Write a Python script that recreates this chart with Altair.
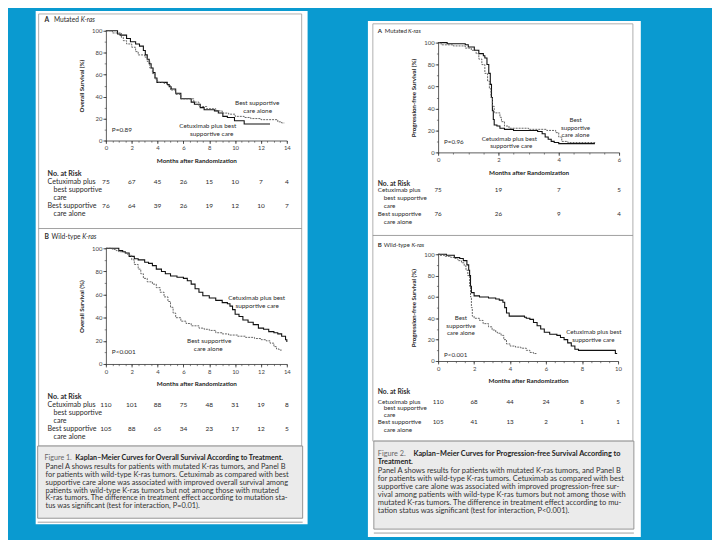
import altair as alt
import pandas as pd

W, H = 712, 532
BLUE = "#0a9ad0"
FONT = "Lato"
INK = "#2b2b2b"

# ---------------- Kaplan-Meier curves (month, % surviving) ----------------
# Figure 1A  overall survival, mutated K-ras
os_mut_cet_m = [0, 0.9, 1.1, 1.6, 1.9, 2.3, 2.6, 2.9, 3.05, 3.2, 3.35, 3.5, 3.65, 3.8, 3.95, 4.75, 4.9, 5.05, 5.4, 5.8,
                6.6, 6.85, 7.3, 7.6, 8.4, 8.7, 9.05, 9.4, 9.95, 10.7, 12.7]
os_mut_cet_p = [100, 97, 96, 93, 90, 88, 86, 82, 78, 74, 70, 66, 62, 57, 53, 51, 49, 47, 43, 38,
                35, 33, 30, 28, 27, 25, 22, 21, 18, 15, 15]
os_mut_bsc_m = [0, 0.5, 1.2, 1.35, 1.6, 2.0, 2.3, 2.5, 3.0, 3.2, 3.4, 3.6, 3.8, 4.0, 4.5, 4.8, 5.0, 5.4, 5.8, 6.8,
                7.2, 7.8, 8.5, 9.0, 9.5, 10.0, 10.7, 11.2, 12.0, 13.3, 13.6, 13.8]
os_mut_bsc_p = [100, 98, 94, 91, 88, 85, 81, 78, 76, 72, 66, 61, 56, 53, 52, 50, 46, 42, 38, 35,
                31, 29, 27, 25, 24, 22, 21, 20, 19, 17, 16, 16]
# Figure 1B  overall survival, wild-type K-ras
os_wt_cet_m = [0, 1.0, 1.3, 1.5, 1.8, 2.2, 2.5, 3.0, 3.3, 3.6, 3.9, 4.3, 4.6, 5.0, 5.5, 6.0, 6.3, 6.6, 6.9, 7.2,
               7.5, 8.0, 8.5, 9.0, 9.4, 9.6, 9.8, 10.0, 10.3, 10.6, 11.0, 11.4, 11.8, 12.2, 12.6, 13.0, 13.3, 13.6, 13.9, 14.0]
os_wt_cet_p = [100, 98, 97, 96, 93, 91, 90, 88, 87, 85, 82, 80, 78, 76, 75, 74, 72, 69, 65, 62,
               59, 57, 55, 53, 52, 50, 47, 43, 41, 38, 36, 34, 31, 30, 28, 27, 26, 24, 21, 19]
os_wt_bsc_m = [0, 0.5, 0.8, 1.0, 1.5, 1.7, 2.0, 2.2, 2.5, 2.7, 2.9, 3.2, 3.6, 3.9, 4.2, 4.5, 4.8, 5.0, 5.2, 5.4,
               5.8, 6.2, 6.6, 7.2, 7.6, 8.0, 8.5, 9.0, 9.5, 10.2, 10.8, 11.5, 12.0, 12.4, 12.7, 13.0, 13.2, 13.4, 13.6]
os_wt_bsc_p = [100, 99, 98, 97, 96, 94, 90, 86, 82, 78, 74, 71, 69, 66, 62, 58, 54, 49, 44, 40,
               37, 35, 33, 31, 30, 29, 27, 26, 25, 24, 23, 22, 21, 20, 18, 15, 13, 12, 12]
# Figure 2A  progression-free survival, mutated K-ras
pfs_mut_cet_m = [0, 0.3, 0.9, 1.0, 1.2, 1.35, 1.5, 1.55, 1.62, 1.68, 1.73, 1.77, 1.8, 1.83, 1.86, 1.95, 2.05, 2.2,
                 2.5, 3.3, 3.45, 3.55, 3.65, 3.75, 3.85, 4.0, 5.2]
pfs_mut_cet_p = [100, 99, 98, 96, 93, 90, 88, 86, 80, 72, 62, 50, 38, 30, 25, 24, 22, 21,
                 20, 19, 17, 14, 12, 10, 9, 8, 8]
pfs_mut_bsc_m = [0, 0.1, 0.5, 0.9, 1.1, 1.26, 1.35, 1.45, 1.55, 1.64, 1.7, 1.75, 1.8, 1.86, 2.05, 2.1, 2.2, 2.35,
                 3.0, 3.6, 3.9, 4.0, 4.1, 4.3, 5.2]
pfs_mut_bsc_p = [100, 98, 97, 95, 93, 90, 85, 80, 72, 65, 58, 50, 42, 36, 32, 28, 24, 22,
                 21, 20, 18, 14, 10, 9, 8]
# Figure 2B  progression-free survival, wild-type K-ras
pfs_wt_cet_m = [0, 0.46, 0.9, 1.2, 1.4, 1.6, 1.7, 1.75, 1.8, 1.85, 2.0, 2.3, 2.8, 3.2, 3.4, 3.6, 3.7, 3.8, 3.95, 4.8,
                4.9, 5.1, 5.3, 5.5, 5.7, 5.9, 6.2, 6.6, 6.8, 7.0, 7.2, 7.4, 7.6, 7.8, 9.85, 9.95]
pfs_wt_cet_p = [100, 99, 97, 96, 94, 90, 85, 80, 70, 64, 61, 60, 59, 58, 57, 55, 50, 45, 42, 41,
                40, 39, 36, 33, 30, 27, 25, 24, 22, 20, 17, 14, 11, 10, 7, 7]
pfs_wt_bsc_m = [0, 0.1, 0.4, 0.7, 0.9, 1.1, 1.3, 1.45, 1.55, 1.65, 1.75, 1.8, 1.85, 1.9, 2.0, 2.3, 2.5, 2.8, 3.0, 3.2,
                3.3, 3.5, 3.65, 3.8, 4.0, 4.3, 4.6, 4.9, 5.1, 5.3, 5.45]
pfs_wt_bsc_p = [100, 99, 98, 97, 96, 94, 92, 89, 85, 80, 70, 60, 50, 42, 40, 38, 35, 32, 29, 27,
                26, 24, 20, 16, 14, 13, 12, 10, 8, 7, 6]

# ---------------- numbers at risk ----------------
os_risk_months = [0, 2, 4, 6, 8, 10, 12, 14]
os_mut_risk_cet = [75, 67, 45, 26, 15, 10, 7, 4]
os_mut_risk_bsc = [76, 64, 39, 26, 19, 12, 10, 7]
os_wt_risk_cet = [110, 101, 88, 75, 48, 31, 19, 8]
os_wt_risk_bsc = [105, 88, 65, 34, 23, 17, 12, 5]
pfs_mut_risk_months = [0, 2, 4, 6]
pfs_mut_risk_cet = [75, 19, 7, 5]
pfs_mut_risk_bsc = [76, 26, 9, 4]
pfs_wt_risk_months = [0, 2, 4, 6, 8, 10]
pfs_wt_risk_cet = [110, 68, 44, 24, 8, 5]
pfs_wt_risk_bsc = [105, 41, 13, 2, 1, 1]

# ---------------- texts ----------------
x_title = "Months after Randomization"
os_ytitle = "Overall Survival (%)"
pfs_ytitle = "Progression-free Survival (%)"
cap1_head = "Figure 1."
cap1_bold = "Kaplan–Meier Curves for Overall Survival According to Treatment."
cap1_lines = [
    "Panel A shows results for patients with mutated K-ras tumors, and Panel B",
    "for patients with wild-type K-ras tumors. Cetuximab as compared with best",
    "supportive care alone was associated with improved overall survival among",
    "patients with wild-type K-ras tumors but not among those with mutated",
    "K-ras tumors. The difference in treatment effect according to mutation sta-",
    "tus was significant (test for interaction, P=0.01).",
]
cap2_head = "Figure 2."
cap2_bold = ["Kaplan–Meier Curves for Progression-free Survival According to", "Treatment."]
cap2_lines = [
    "Panel A shows results for patients with mutated K-ras tumors, and Panel B",
    "for patients with wild-type K-ras tumors. Cetuximab as compared with best",
    "supportive care alone was associated with improved progression-free sur-",
    "vival among patients with wild-type K-ras tumors but not among those with",
    "mutated K-ras tumors. The difference in treatment effect according to mu-",
    "tation status was significant (test for interaction, P<0.001).",
]


def km_panel(cet_m, cet_p, bsc_m, bsc_p, xmax, xstep, x0, x1, y0, y100, ytitle,
             risk_m, risk_c, risk_b, ry1, ry2, rsize):
    xs = alt.Scale(domain=[0, xmax], range=[x0, x1], nice=False, zero=False)
    ys = alt.Scale(domain=[0, 100], range=[y0, y100], nice=False, zero=False)
    common = dict(zindex=1, grid=False, tickColor="#333", tickWidth=0.8)
    ax_x = alt.Axis(orient="bottom", offset=y0 - H, values=list(range(0, xmax + 1, xstep)), format="d",
                    labelFont=FONT, labelFontSize=6, labelColor="#444", labelPadding=1.5, tickSize=3,
                    labelFlush=False, labelOverlap=False, domainColor="#333", domainWidth=0.8,
                    title=x_title, titleFont=FONT, titleFontSize=6.4, titleFontWeight="bold",
                    titleColor="#222", titleX=(x0 + x1) / 2, titleY=20, titleAlign="center",
                    titleBaseline="middle", titleAngle=0, **common)
    ax_y = alt.Axis(orient="left", offset=-x0, values=[0, 20, 40, 60, 80, 100], format="d",
                    labelFont=FONT, labelFontSize=6, labelColor="#444", labelPadding=1, tickSize=3,
                    labelFlush=False, labelOverlap=False, domainColor="#333", domainWidth=0.8,
                    title=ytitle, titleFont=FONT, titleFontSize=6.2, titleFontWeight="bold",
                    titleColor="#222", titleAngle=270, titleX=-24.5, titleY=(y0 + y100) / 2,
                    titleAlign="center", titleBaseline="middle", **common)
    mx = alt.Axis(orient="bottom", offset=y0 - H, values=[i * 0.5 for i in range(2 * xmax + 1)],
                  labels=False, domain=False, tickSize=1.7, title="", zindex=1, grid=False,
                  tickColor="#333", tickWidth=0.6)
    my = alt.Axis(orient="left", offset=-x0, values=list(range(0, 101, 10)),
                  labels=False, domain=False, tickSize=1.7, title="", zindex=1, grid=False,
                  tickColor="#333", tickWidth=0.6)
    solid = alt.Chart(pd.DataFrame({"month": cet_m, "pct": cet_p})).mark_line(
        interpolate="step-after", color="#111", strokeWidth=1.1).encode(
        x=alt.X("month:Q", scale=xs, axis=ax_x), y=alt.Y("pct:Q", scale=ys, axis=ax_y))
    dashed = alt.Chart(pd.DataFrame({"month": bsc_m, "pct": bsc_p})).mark_line(
        interpolate="step-after", color="#555", strokeWidth=0.9, strokeDash=[2, 1]).encode(
        x=alt.X("month:Q", scale=xs, axis=mx), y=alt.Y("pct:Q", scale=ys, axis=my))
    r1 = alt.Chart(pd.DataFrame({"month": risk_m, "n": risk_c})).mark_text(
        font=FONT, fontSize=rsize, color=INK).encode(
        x=alt.X("month:Q", scale=xs, axis=None), y=alt.value(ry1), text="n:N")
    r2 = alt.Chart(pd.DataFrame({"month": risk_m, "n": risk_b})).mark_text(
        font=FONT, fontSize=rsize, color=INK).encode(
        x=alt.X("month:Q", scale=xs, axis=None), y=alt.value(ry2), text="n:N")
    return alt.layer(solid, dashed, r1, r2).resolve_axis(x="independent", y="independent")


one = pd.DataFrame({"k": [0]})


def box(x, x2, y, y2, fill, stroke="", sw=0.0, fo=1.0):
    kw = dict(fill=fill, fillOpacity=fo)
    if stroke:
        kw.update(stroke=stroke, strokeWidth=sw)
    return alt.Chart(one).mark_rect(**kw).encode(
        x=alt.value(x), x2=alt.value(x2), y=alt.value(y), y2=alt.value(y2))


def hline(x, x2, y, color="#888", sw=0.8):
    return alt.Chart(one).mark_rule(color=color, strokeWidth=sw).encode(
        x=alt.value(x), x2=alt.value(x2), y=alt.value(y))


decor = [
    box(28, 303, 0, 519, "white"),
    box(364, 640, 10, 532, "white"),
    box(31, 297, 3, 440, "white", "#9a9a9a", 0.8, 0.0),
    box(369, 632, 13, 435, "white", "#9a9a9a", 0.8, 0.0),
    hline(31, 297, 220),
    hline(369, 632, 227),
    box(30, 298, 440, 513, "#ebebeb", "#8a8a8a", 0.9),
    box(370, 633, 435, 524, "#ebebeb", "#8a8a8a", 0.9),
    hline(30, 298, 517, "#888", 0.8),
    hline(370, 633, 528, "#888", 0.8),
]

# text rows: (text, x, y, size, color)
reg_left, bold_left, ital_left, centered = [], [], [], []

# panel titles
bold_left += [("A", 37, 9, 6.8, INK), ("B", 37, 229, 6.8, INK), ("A", 374, 20, 6.2, INK), ("B", 374, 237, 6.2, INK)]
reg_left += [("Mutated", 46.5, 9, 6.7, INK), ("Wild-type", 44, 229, 6.7, INK),
             ("Mutated", 381, 20, 6.0, INK), ("Wild-type", 380, 237, 6.0, INK)]
ital_left += [("K-ras", 73.5, 9, 6.7, INK), ("K-ras", 75, 229, 6.7, INK),
              ("K-ras", 404.5, 20, 6.0, INK), ("K-ras", 408, 237, 6.0, INK)]


def risk_labels(x, ys, size, bsize):
    bold_left.append(("No. at Risk", x, ys[0], bsize, INK))
    rows = [("Cetuximab plus", 0), ("best supportive", 6), ("care", 6), ("Best supportive", 0), ("care alone", 6)]
    for (t, ind), yy in zip(rows, ys[1:]):
        reg_left.append((t, x + ind, yy, size, INK))


risk_labels(40, [165, 173, 181, 189, 197, 205], 7.2, 7.2)
risk_labels(40, [390, 399, 407, 415, 423, 431], 7.2, 7.2)
risk_labels(374, [175, 181, 189, 197, 205, 213], 6.4, 6.8)
risk_labels(374, [385, 395, 402, 409, 416, 424], 6.4, 6.8)

# p values
reg_left += [("P=0.89", 105, 120, 6.5, INK), ("P<0.001", 105, 345, 6.5, INK),
             ("P=0.96", 441, 133, 6.3, INK), ("P<0.001", 441, 348, 6.3, INK)]

# curve annotations
centered += [
    ("Best supportive", 252, 93, 6.5, INK), ("care alone", 252.5, 101, 6.5, INK),
    ("Cetuximab plus best", 202, 116, 6.5, INK), ("supportive care", 206, 124, 6.5, INK),
    ("Cetuximab plus best", 251.5, 290, 6.5, INK), ("supportive care", 252, 298, 6.5, INK),
    ("Best supportive", 203.5, 334, 6.5, INK), ("care alone", 202.5, 342, 6.5, INK),
    ("Best", 574, 110, 6.3, INK), ("supportive", 574, 118, 6.3, INK), ("care alone", 574, 125, 6.3, INK),
    ("Cetuximab plus best", 507, 129, 6.3, INK), ("supportive care", 509, 137, 6.3, INK),
    ("Best", 458, 311, 6.3, INK), ("supportive", 458, 319, 6.3, INK), ("care alone", 458, 326, 6.3, INK),
    ("Cetuximab plus best", 592.5, 325, 6.3, INK), ("supportive care", 592, 333, 6.3, INK),
]

# captions
reg_left.append((cap1_head, 37, 452, 7.2, "#666"))
bold_left.append((cap1_bold, 68, 452, 7.2, "#222"))
for i, t in enumerate(cap1_lines):
    reg_left.append((t, 38, 461 + 8 * i, 7.5, "#333"))
reg_left.append((cap2_head, 374, 448, 7.4, "#666"))
bold_left.append((cap2_bold[0], 410, 448, 7.4, "#222"))
bold_left.append((cap2_bold[1], 374, 456.3, 7.4, "#222"))
for i, t in enumerate(cap2_lines):
    reg_left.append((t, 374, 465 + 8.2 * i, 7.6, "#333"))


def text_layer(rows, align, weight="normal", style="normal"):
    df = pd.DataFrame(rows, columns=["t", "x", "y", "s", "c"])
    return alt.Chart(df).mark_text(font=FONT, align=align, baseline="middle",
                                   fontWeight=weight, fontStyle=style).encode(
        x=alt.X("x:Q", scale=None, axis=None),
        y=alt.Y("y:Q", scale=None, axis=None),
        text="t:N",
        size=alt.Size("s:Q", scale=None, legend=None),
        color=alt.Color("c:N", scale=None, legend=None),
    )


texts = [
    text_layer(reg_left, "left"),
    text_layer(bold_left, "left", weight="bold"),
    text_layer(ital_left, "left", style="italic"),
    text_layer(centered, "center"),
]

pLA = km_panel(os_mut_cet_m, os_mut_cet_p, os_mut_bsc_m, os_mut_bsc_p, 14, 2, 99, 282, 131, 20, os_ytitle,
               os_risk_months, os_mut_risk_cet, os_mut_risk_bsc, 173, 197, 6.6)
pLB = km_panel(os_wt_cet_m, os_wt_cet_p, os_wt_bsc_m, os_wt_bsc_p, 14, 2, 99, 282, 357, 240, os_ytitle,
               os_risk_months, os_wt_risk_cet, os_wt_risk_bsc, 399, 423, 6.6)
pRA = km_panel(pfs_mut_cet_m, pfs_mut_cet_p, pfs_mut_bsc_m, pfs_mut_bsc_p, 6, 2, 435, 618, 143, 32, pfs_ytitle,
               pfs_mut_risk_months, pfs_mut_risk_cet, pfs_mut_risk_bsc, 181, 205, 6.3)
pRB = km_panel(pfs_wt_cet_m, pfs_wt_cet_p, pfs_wt_bsc_m, pfs_wt_bsc_p, 10, 2, 435, 617, 354, 246, pfs_ytitle,
               pfs_wt_risk_months, pfs_wt_risk_cet, pfs_wt_risk_bsc, 395, 416, 6.3)

chart = alt.layer(*decor, *texts, pLA, pLB, pRA, pRB).resolve_scale(
    x="independent", y="independent").resolve_axis(x="independent", y="independent").properties(
    width=W, height=H, background=BLUE, padding=0,
    autosize=alt.AutoSizeParams(type="none")).configure_view(strokeWidth=0)

chart.save("out.html", embed_options={"renderer": "svg", "actions": False})
